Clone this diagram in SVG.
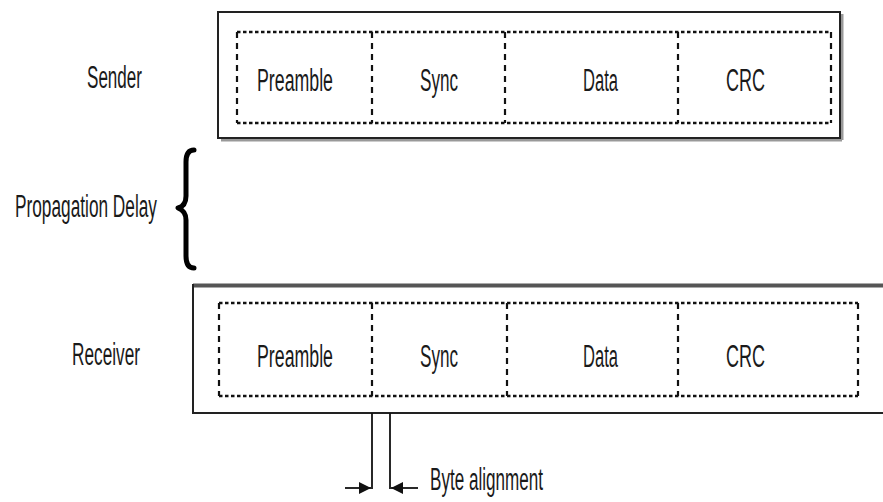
<svg xmlns="http://www.w3.org/2000/svg" width="883" height="502" viewBox="0 0 883 502">
<style>
text{font-family:"Liberation Sans",Arial,sans-serif;font-size:31px;fill:#1a1a1a;}
.lab{text-anchor:start;}
.fld{text-anchor:start;}
.hd{fill:none;stroke:#111;stroke-width:2.4;stroke-dasharray:3.5 2.5;}
.vd{fill:none;stroke:#111;stroke-width:2.2;stroke-dasharray:6 5;}
.ln{fill:none;stroke:#111;stroke-width:1.8;}
</style>
<defs>
<marker id="ah" viewBox="0 0 10 10" refX="10" refY="5" markerWidth="12" markerHeight="12" markerUnits="userSpaceOnUse" orient="auto">
<path d="M0,0 L10,5 L0,10 z" fill="#111"/>
</marker>
</defs>
<rect width="883" height="502" fill="#fff"/>

<g id="sender-label"><text class="lab" x="87" y="88" textLength="55" lengthAdjust="spacingAndGlyphs">Sender</text></g>
<g id="receiver-label"><text class="lab" x="72" y="365" textLength="68" lengthAdjust="spacingAndGlyphs">Receiver</text></g>
<g id="delay-label"><text class="lab" x="15" y="217" textLength="142" lengthAdjust="spacingAndGlyphs">Propagation Delay</text></g>

<g id="brace">
<path d="M194,150 Q186,150 186,162 L186,196 Q186,206 178,208 Q186,211 186,220 L186,256 Q186,268 194,268" fill="none" stroke="#000" stroke-width="5" stroke-linecap="round" stroke-linejoin="round"/>
</g>

<g id="sender">
<line x1="221" y1="140" x2="842" y2="140" stroke="#999" stroke-width="3"/>
<line x1="842" y1="14" x2="842" y2="140" stroke="#999" stroke-width="3"/>
<rect x="218" y="12" width="622" height="126" fill="#fff" stroke="#222" stroke-width="2"/>
<line x1="237" y1="32" x2="831" y2="32" class="hd"/>
<line x1="237" y1="123" x2="831" y2="123" class="hd"/>
<line x1="237" y1="32" x2="237" y2="123" class="vd"/>
<line x1="372" y1="32" x2="372" y2="123" class="vd"/>
<line x1="505" y1="32" x2="505" y2="123" class="vd"/>
<line x1="678" y1="32" x2="678" y2="123" class="vd"/>
<line x1="831" y1="32" x2="831" y2="123" class="vd"/>
<text class="fld" x="257" y="91" textLength="76" lengthAdjust="spacingAndGlyphs">Preamble</text>
<text class="fld" x="420" y="91" textLength="38" lengthAdjust="spacingAndGlyphs">Sync</text>
<text class="fld" x="583" y="91" textLength="35" lengthAdjust="spacingAndGlyphs">Data</text>
<text class="fld" x="726" y="91" textLength="39" lengthAdjust="spacingAndGlyphs">CRC</text>
</g>

<g id="receiver">
<line x1="193" y1="285.5" x2="883" y2="285.5" stroke="#555" stroke-width="4"/>
<line x1="193" y1="284" x2="193" y2="414" stroke="#222" stroke-width="2"/>
<line x1="193" y1="413" x2="883" y2="413" stroke="#222" stroke-width="2"/>
<line x1="219" y1="303" x2="858" y2="303" class="hd"/>
<line x1="219" y1="396" x2="858" y2="396" class="hd"/>
<line x1="219" y1="303" x2="219" y2="396" class="vd"/>
<line x1="372" y1="303" x2="372" y2="396" class="vd"/>
<line x1="507" y1="303" x2="507" y2="396" class="vd"/>
<line x1="678" y1="303" x2="678" y2="396" class="vd"/>
<line x1="858" y1="303" x2="858" y2="396" class="vd"/>
<text class="fld" x="257" y="367" textLength="76" lengthAdjust="spacingAndGlyphs">Preamble</text>
<text class="fld" x="420" y="367" textLength="38" lengthAdjust="spacingAndGlyphs">Sync</text>
<text class="fld" x="583" y="367" textLength="35" lengthAdjust="spacingAndGlyphs">Data</text>
<text class="fld" x="726" y="367" textLength="39" lengthAdjust="spacingAndGlyphs">CRC</text>
</g>

<g id="connectors">
<line x1="372" y1="413" x2="372" y2="489" class="ln"/>
<line x1="390" y1="413" x2="390" y2="489" class="ln"/>
<line x1="345" y1="488" x2="371" y2="488" class="ln" marker-end="url(#ah)"/>
<line x1="418" y1="488" x2="391" y2="488" class="ln" marker-end="url(#ah)"/>
</g>

<g id="byte-label"><text class="lab" x="430" y="490" textLength="113" lengthAdjust="spacingAndGlyphs">Byte alignment</text></g>
</svg>
